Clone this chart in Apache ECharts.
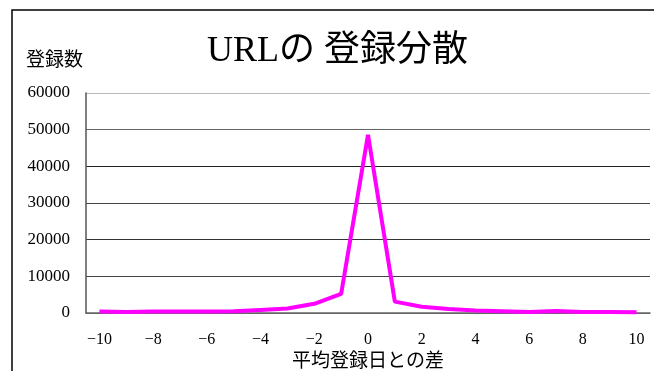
<!DOCTYPE html>
<html>
<head>
<meta charset="utf-8">
<script src="https://cdn.jsdelivr.net/npm/echarts@6/dist/echarts.min.js"></script>
<style>
  html, body {margin: 0; padding: 0; background: #fff;}
  #chart {width: 654px; height: 371px;}
</style>
</head>
<body>
<div id="chart"></div>
<script>
const days = [-10, -9, -8, -7, -6, -5, -4, -3, -2, -1, 0, 1, 2, 3, 4, 5, 6, 7, 8, 9, 10];
const counts = [
  400, 250, 400, 400, 400, 450, 850, 1250, 2500, 5200,
  48600,
  3100, 1700, 1100, 650, 500, 300, 550, 300, 250, 200
];
const yTicks = [0, 10000, 20000, 30000, 40000, 50000, 60000];

const serif = "'Liberation Serif', 'Noto Sans CJK JP', serif";
const chart = echarts.init(document.getElementById('chart'));

chart.setOption({
  animation: false,
  backgroundColor: '#fff',
  title: [{
    text: 'URLの 登録分散',
    left: 202,
    top: 29,
    textStyle: {fontFamily: serif, fontSize: 36, fontWeight: 'normal', color: '#000'}
  }, {
    text: '登録数',
    left: 21,
    top: 47,
    textStyle: {fontFamily: serif, fontSize: 19, fontWeight: 'normal', color: '#000'}
  }],
  graphic: [{
    type: 'rect',
    shape: {x: 12, y: 10, width: 700, height: 400},
    style: {fill: 'none', stroke: '#000', lineWidth: 1.5},
    silent: true
  }],
  grid: {left: 86, right: 4, top: 93, bottom: 58, outerBoundsMode: 'none', containLabel: false},
  xAxis: {
    type: 'category',
    data: days,
    boundaryGap: true,
    name: '平均登録日との差',
    nameLocation: 'middle',
    nameGap: 32,
    nameTextStyle: {fontFamily: serif, fontSize: 19, color: '#000'},
    axisLine: {lineStyle: {color: '#666', width: 1.5}},
    axisTick: {interval: 0, inside: true, length: 5, lineStyle: {color: '#333'}},
    axisLabel: {
      interval: 1,
      margin: 19,
      fontFamily: serif,
      fontSize: 16,
      color: '#000',
      formatter: v => String(v).replace('-', '−')
    }
  },
  yAxis: {
    type: 'value',
    min: yTicks[0],
    max: yTicks[yTicks.length - 1],
    interval: 10000,
    axisLine: {show: true, lineStyle: {color: '#555', width: 1.5}},
    axisTick: {show: false},
    axisLabel: {margin: 16, fontFamily: serif, fontSize: 17, color: '#000', formatter: v => String(v)},
    splitLine: {lineStyle: {color: ['#666', '#444', '#333', '#444', '#222', '#666', '#bbb'], width: 1.2}}
  },
  series: [{
    type: 'line',
    data: counts,
    showSymbol: false,
    symbol: 'none',
    lineStyle: {color: '#ff00ff', width: 4}
  }]
});
</script>
</body>
</html>
